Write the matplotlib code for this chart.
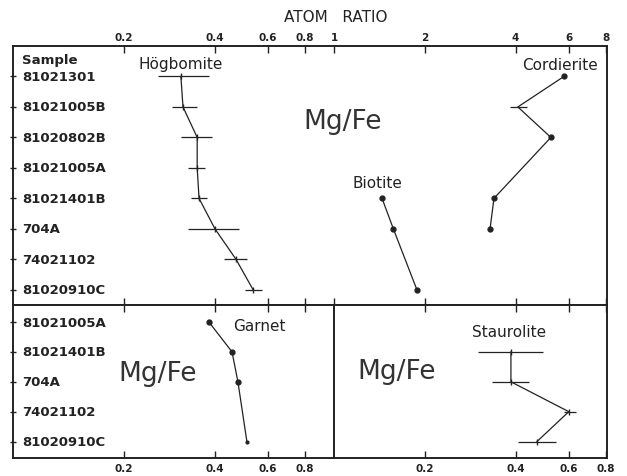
import numpy as np
import matplotlib
matplotlib.use("Agg")
import matplotlib.pyplot as plt
from matplotlib.ticker import FixedLocator, NullLocator

plt.rcParams['font.family'] = ['DejaVu Sans']

# --- data (atom ratio Mg/Fe) ---
top_samples = ["81021301", "81021005B", "81020802B", "81021005A",
               "81021401B", "704A", "74021102", "81020910C"]
bot_samples = ["81021005A", "81021401B", "704A", "74021102", "81020910C"]

hog_row = [0, 1, 2, 3, 4, 5, 6, 7]
hog_val = [0.309, 0.314, 0.350, 0.350, 0.355, 0.401, 0.471, 0.537]
hog_lo = [0.259, 0.289, 0.309, 0.326, 0.334, 0.326, 0.430, 0.505]
hog_hi = [0.383, 0.350, 0.392, 0.372, 0.377, 0.482, 0.512, 0.575]

cord_row = [0, 1, 2, 4, 5]
cord_val = [5.79, 4.07, 5.24, 3.39, 3.29]
cord_bar_row = [1]
cord_bar_val = [4.07]
cord_bar_lo = [3.83]
cord_bar_hi = [4.36]

bio_row = [4, 5, 7]
bio_val = [1.44, 1.57, 1.88]

gar_row = [0, 1, 2, 4]
gar_val = [0.383, 0.457, 0.478, 0.512]

stau_row = [1, 2, 3, 4]
stau_val = [0.386, 0.386, 0.601, 0.471]
stau_lo = [0.300, 0.334, 0.579, 0.408]
stau_hi = [0.493, 0.443, 0.635, 0.545]

top_ticks = [0.2, 0.4, 0.6, 0.8, 1, 2, 4, 6, 8]
top_ticklabels = ["0.2", "0.4", "0.6", "0.8", "1", "2", "4", "6", "8"]
bl_ticks = [0.2, 0.4, 0.6, 0.8]
br_ticks = [0.2, 0.4, 0.6, 0.8]

ink = "#222222"
W, H = 627, 477
fig = plt.figure(figsize=(W / 100, H / 100), dpi=100)


def frac(x0, y0, x1, y1):
    return [x0 / W, 1 - y1 / H, (x1 - x0) / W, (y1 - y0) / H]


ax_top = fig.add_axes(frac(12.5, 47, 607, 306))
ax_bl = fig.add_axes(frac(12.5, 306, 334, 459))
ax_br = fig.add_axes(frac(334, 306, 607, 459))

for ax in (ax_top, ax_bl, ax_br):
    ax.set_xscale("log")
    ax.xaxis.set_minor_locator(NullLocator())
    for s in ax.spines.values():
        s.set_linewidth(1.4)
        s.set_color(ink)
    ax.tick_params(axis="x", which="major", direction="in", length=5,
                   width=1.0, color=ink, top=True, bottom=True,
                   labelsize=7.5, labelcolor=ink)
    ax.tick_params(axis="y", direction="inout", length=5, width=1.0,
                   color=ink, labelleft=False)

lab_font = dict(fontsize=9.5, fontweight="bold", color=ink)
name_font = dict(fontsize=11, color=ink)
mgfe_font = dict(fontsize=19, color="#333333")

# --- top panel ---
ax_top.set_xlim(0.0852, 8.05)
ax_top.set_ylim(7.5, -1)
ax_top.xaxis.set_major_locator(FixedLocator(top_ticks))
ax_top.set_xticklabels(top_ticklabels, fontweight="bold")
ax_top.tick_params(axis="x", labeltop=True, labelbottom=False, pad=3)
ax_top.set_yticks(range(len(top_samples)))
for i, s in enumerate(top_samples):
    ax_top.annotate(s, (0, i), xycoords=("axes fraction", "data"),
                    xytext=(7, 0), textcoords="offset points",
                    va="center", ha="left", **lab_font)
ax_top.annotate("Sample", (0, -0.57), xycoords=("axes fraction", "data"),
                xytext=(7, 0), textcoords="offset points",
                va="center", ha="left", **lab_font)

hv = np.array(hog_val)
ax_top.errorbar(hog_val, hog_row,
                xerr=[hv - np.array(hog_lo), np.array(hog_hi) - hv],
                color=ink, lw=0.9, elinewidth=0.9, capsize=0,
                marker="|", ms=4)
ax_top.plot(cord_val, cord_row, color=ink, lw=0.9, marker="o", ms=3.5,
            markevery=[0, 2, 3, 4])
cb = np.array(cord_bar_val)
ax_top.errorbar(cord_bar_val, cord_bar_row,
                xerr=[cb - np.array(cord_bar_lo), np.array(cord_bar_hi) - cb],
                color=ink, lw=0, elinewidth=0.9, capsize=0)
ax_top.plot(bio_val, bio_row, color=ink, lw=0.9, marker="o", ms=3.5)

ax_top.text(0.309, -0.43, "Högbomite", ha="center", va="center", **name_font)
ax_top.text(5.62, -0.4, "Cordierite", ha="center", va="center", **name_font)
ax_top.text(1.39, 3.47, "Biotite", ha="center", va="center", **name_font)
ax_top.text(1.069, 1.45, "Mg/Fe", ha="center", va="center", **mgfe_font)

fig.text(336 / W, 1 - 17 / H, "ATOM   RATIO", ha="center", va="center",
         fontsize=11, color=ink)

# --- bottom left panel (garnet) ---
ax_bl.set_xlim(0.0852, 0.997)
ax_bl.set_ylim(4.55, -0.57)
ax_bl.xaxis.set_major_locator(FixedLocator(bl_ticks))
ax_bl.set_xticklabels([str(t) for t in bl_ticks], fontweight="bold")
ax_bl.set_yticks(range(len(bot_samples)))
for i, s in enumerate(bot_samples):
    ax_bl.annotate(s, (0, i), xycoords=("axes fraction", "data"),
                   xytext=(7, 0), textcoords="offset points",
                   va="center", ha="left", **lab_font)
ax_bl.plot(gar_val, gar_row, color=ink, lw=0.9, marker="o", ms=3.5,
           markevery=[0, 1, 2])
ax_bl.plot(gar_val[-1:], gar_row[-1:], "o", color=ink, ms=2)
ax_bl.text(0.562, 0.1, "Garnet", ha="center", va="center", **name_font)
ax_bl.text(0.259, 1.7, "Mg/Fe", ha="center", va="center", **mgfe_font)

# --- bottom right panel (staurolite) ---
ax_br.set_xlim(0.0997, 0.805)
ax_br.set_ylim(4.55, -0.57)
ax_br.xaxis.set_major_locator(FixedLocator(br_ticks))
ax_br.set_xticklabels([str(t) for t in br_ticks], fontweight="bold")
ax_br.set_yticks([])
sv = np.array(stau_val)
ax_br.errorbar(stau_val, stau_row,
               xerr=[sv - np.array(stau_lo), np.array(stau_hi) - sv],
               color=ink, lw=0.9, elinewidth=0.9, capsize=0,
               marker="|", ms=4)
ax_br.text(0.380, 0.33, "Staurolite", ha="center", va="center", **name_font)
ax_br.text(0.161, 1.65, "Mg/Fe", ha="center", va="center", **mgfe_font)

fig.savefig("out.png", dpi=100, facecolor="white")
